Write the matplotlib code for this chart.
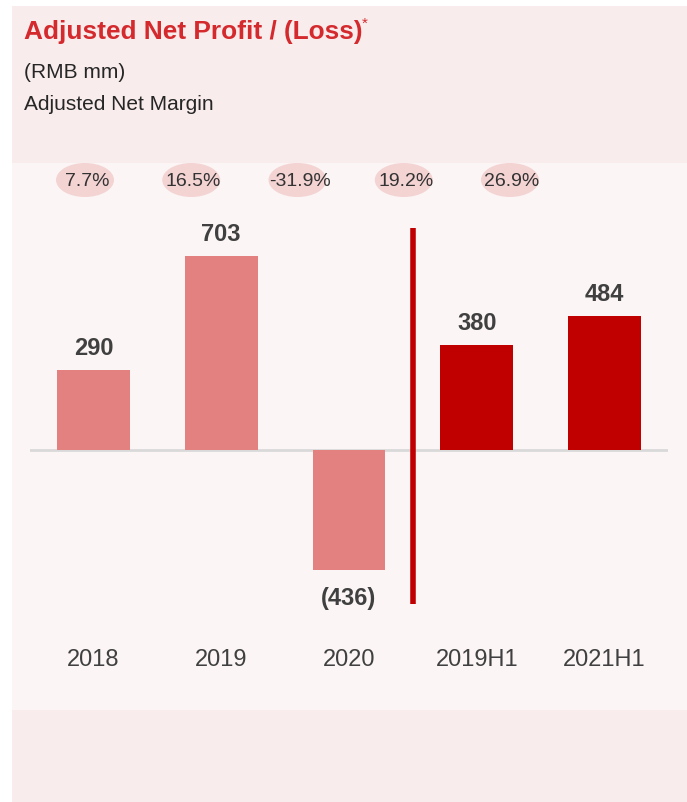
import matplotlib
matplotlib.use('Agg')
import matplotlib.pyplot as plt
from matplotlib.patches import Rectangle, Ellipse
from matplotlib.transforms import blended_transform_factory
import numpy as np

plt.rcParams['font.family'] = ['Liberation Sans', 'DejaVu Sans']

categories = ['2018', '2019', '2020', '2019H1', '2021H1']
profit = [290, 703, -436, 380, 484]
profit_labels = ['290', '703', '(436)', '380', '484']
margins = ['7.7%', '16.5%', '-31.9%', '19.2%', '26.9%']
bar_colors = ['#E38080', '#E38080', '#E38080', '#C00000', '#C00000']

W, H = 687, 803
fig = plt.figure(figsize=(W / 100, H / 100), dpi=100)
fig.patch.set_facecolor('white')


def fx(px):
    return px / W


def fy(py):
    # pixel measured from top -> figure fraction
    return 1 - py / H


# background bands (below the axes)
fig.patches.append(Rectangle((fx(12), fy(164)), fx(675), 157 / H, transform=fig.transFigure,
                             facecolor='#F9ECEC', edgecolor='none', zorder=-2))
fig.patches.append(Rectangle((fx(12), fy(711)), fx(675), 547 / H, transform=fig.transFigure,
                             facecolor='#FBF5F5', edgecolor='none', zorder=-2))
fig.patches.append(Rectangle((fx(12), 0), fx(675), 92 / H, transform=fig.transFigure,
                             facecolor='#F9ECEC', edgecolor='none', zorder=-2))

# header text
fig.text(fx(24), fy(32), 'Adjusted Net Profit / (Loss)', fontsize=18.9, fontweight='bold',
         color='#D42A2E', va='center', ha='left')
fig.text(fx(362), fy(24), '*', fontsize=11, color='#D42A2E', va='center', ha='left')
fig.text(fx(24), fy(72), '(RMB mm)', fontsize=15, color='#262626', va='center')
fig.text(fx(24), fy(104), 'Adjusted Net Margin', fontsize=15, color='#262626', va='center')

# margin bubbles
for xp, m in zip(np.linspace(85, 510, len(margins)), margins):
    fig.patches.append(Ellipse((fx(xp), fy(181)), 58 / W, 34 / H, transform=fig.transFigure,
                               facecolor='#F4D3D3', edgecolor='none', zorder=-1))
    fig.text(fx(xp + 2), fy(181), m, fontsize=14, color='#333333', ha='center', va='center')

# bar axes: x spans 29.6..668.4 px, y spans 200..690 px, zero at 451 px
scale = 0.276  # px per RMB mm
ax = fig.add_axes([fx(29.6), fy(690), fx(638.8), 490 / H])
ax.set_xlim(-0.5, 4.5)
ax.set_ylim(-(690 - 451) / scale, (451 - 200) / scale)
ax.patch.set_alpha(0)
for s in ax.spines.values():
    s.set_visible(False)
ax.set_xticks([])
ax.set_yticks([])

x = np.arange(len(categories))
ax.bar(x, profit, width=0.57, color=bar_colors, zorder=2)
ax.axhline(0, color='#D9D9D9', lw=2, zorder=1)

# separator between full-year and half-year
ax.plot([2.5, 2.5], [(451 - 229) / scale, (451 - 605) / scale], color='#C00000', lw=4,
        solid_capstyle='butt', zorder=3)

for xi, v, lab in zip(x, profit, profit_labels):
    if v >= 0:
        ax.annotate(lab, (xi, v), xytext=(0, 11), textcoords='offset pixels', ha='center',
                    va='bottom', fontsize=17, fontweight='bold', color='#404040')
    else:
        ax.annotate(lab, (xi, v), xytext=(0, -16), textcoords='offset pixels', ha='center',
                    va='top', fontsize=17, fontweight='bold', color='#404040')

tr = blended_transform_factory(ax.transData, fig.transFigure)
for xi, c in zip(x, categories):
    ax.text(xi, fy(660), c, transform=tr, ha='center', va='center', fontsize=17, color='#404040')

fig.savefig('out.png', dpi=100, facecolor=fig.get_facecolor())
